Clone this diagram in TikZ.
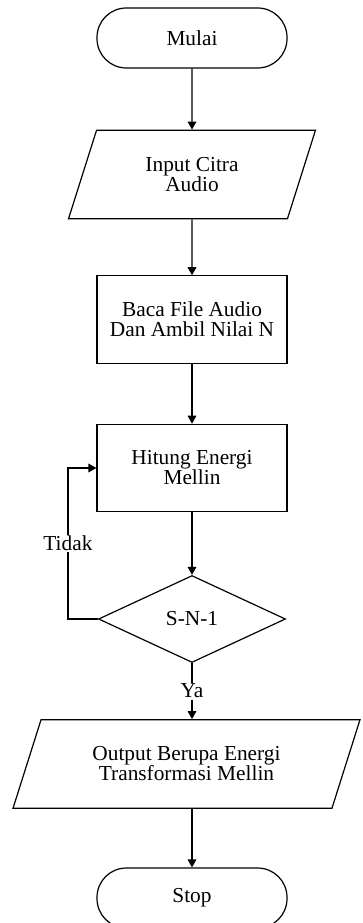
\documentclass[tikz,border=0pt]{standalone}
\usepackage{fontspec}
\setmainfont{Liberation Serif}
\usetikzlibrary{shapes.geometric,arrows.meta}

\begin{document}
\begin{tikzpicture}[x=0.75pt,y=0.75pt,yscale=-1,xscale=1,
  every node/.style={font=\fontsize{16}{15}\selectfont, align=center},
  terminal/.style={draw, line width=0.9pt, rounded corners=22pt, minimum width=142.5pt, minimum height=45pt},
  process/.style={draw, line width=0.9pt, minimum width=142.5pt, minimum height=65.5pt},
  io/.style={draw, line width=0.9pt, trapezium, trapezium left angle=57, trapezium right angle=123, trapezium stretches body, minimum height=66.5pt},
  decision/.style={draw, line width=0.9pt, diamond, inner sep=0pt, minimum width=140.25pt, minimum height=65.25pt},
  flow/.style={line width=0.9pt, -{Triangle[length=6pt,width=6.5pt]}},
  lbl/.style={fill=white, inner sep=1pt}]
\useasboundingbox (0,0) rectangle (362,923);

%Shape: Terminator
\node[terminal] (mulai) at (192,38) {Mulai};
%Shape: Input
\node[io, minimum width=185.25pt] (input) at (192,174.5) {Input Citra\\Audio};
%Shape: Process
\node[process] (baca) at (192,319.5) {Baca File Audio\\Dan Ambil Nilai N};
\node[process] (hitung) at (192,468) {Hitung Energi\\Mellin};
%Shape: Decision
\node[decision] (cek) at (192,619) {S-N-1};
%Shape: Output
\node[io, minimum width=260.25pt] (output) at (186.5,764) {Output Berupa Energi\\Transformasi Mellin};
%Shape: Terminator
\node[terminal] (stop) at (192,898) {Stop};

%Straight Lines
\draw[flow] (mulai) -- (input);
\draw[flow] (input) -- (baca);
\draw[flow] (baca) -- (hitung);
\draw[flow] (hitung) -- (cek);
\draw[flow] (cek.south) -- node[lbl] {Ya} (cek.south |- output.north);
\draw[flow] (output.south -| stop.north) -- (stop.north);
% loop back
\draw[flow] (cek.west) -- ++(-30,0) |- node[lbl, pos=0.25] {Tidak} (hitung.west);

\end{tikzpicture}
\end{document}
